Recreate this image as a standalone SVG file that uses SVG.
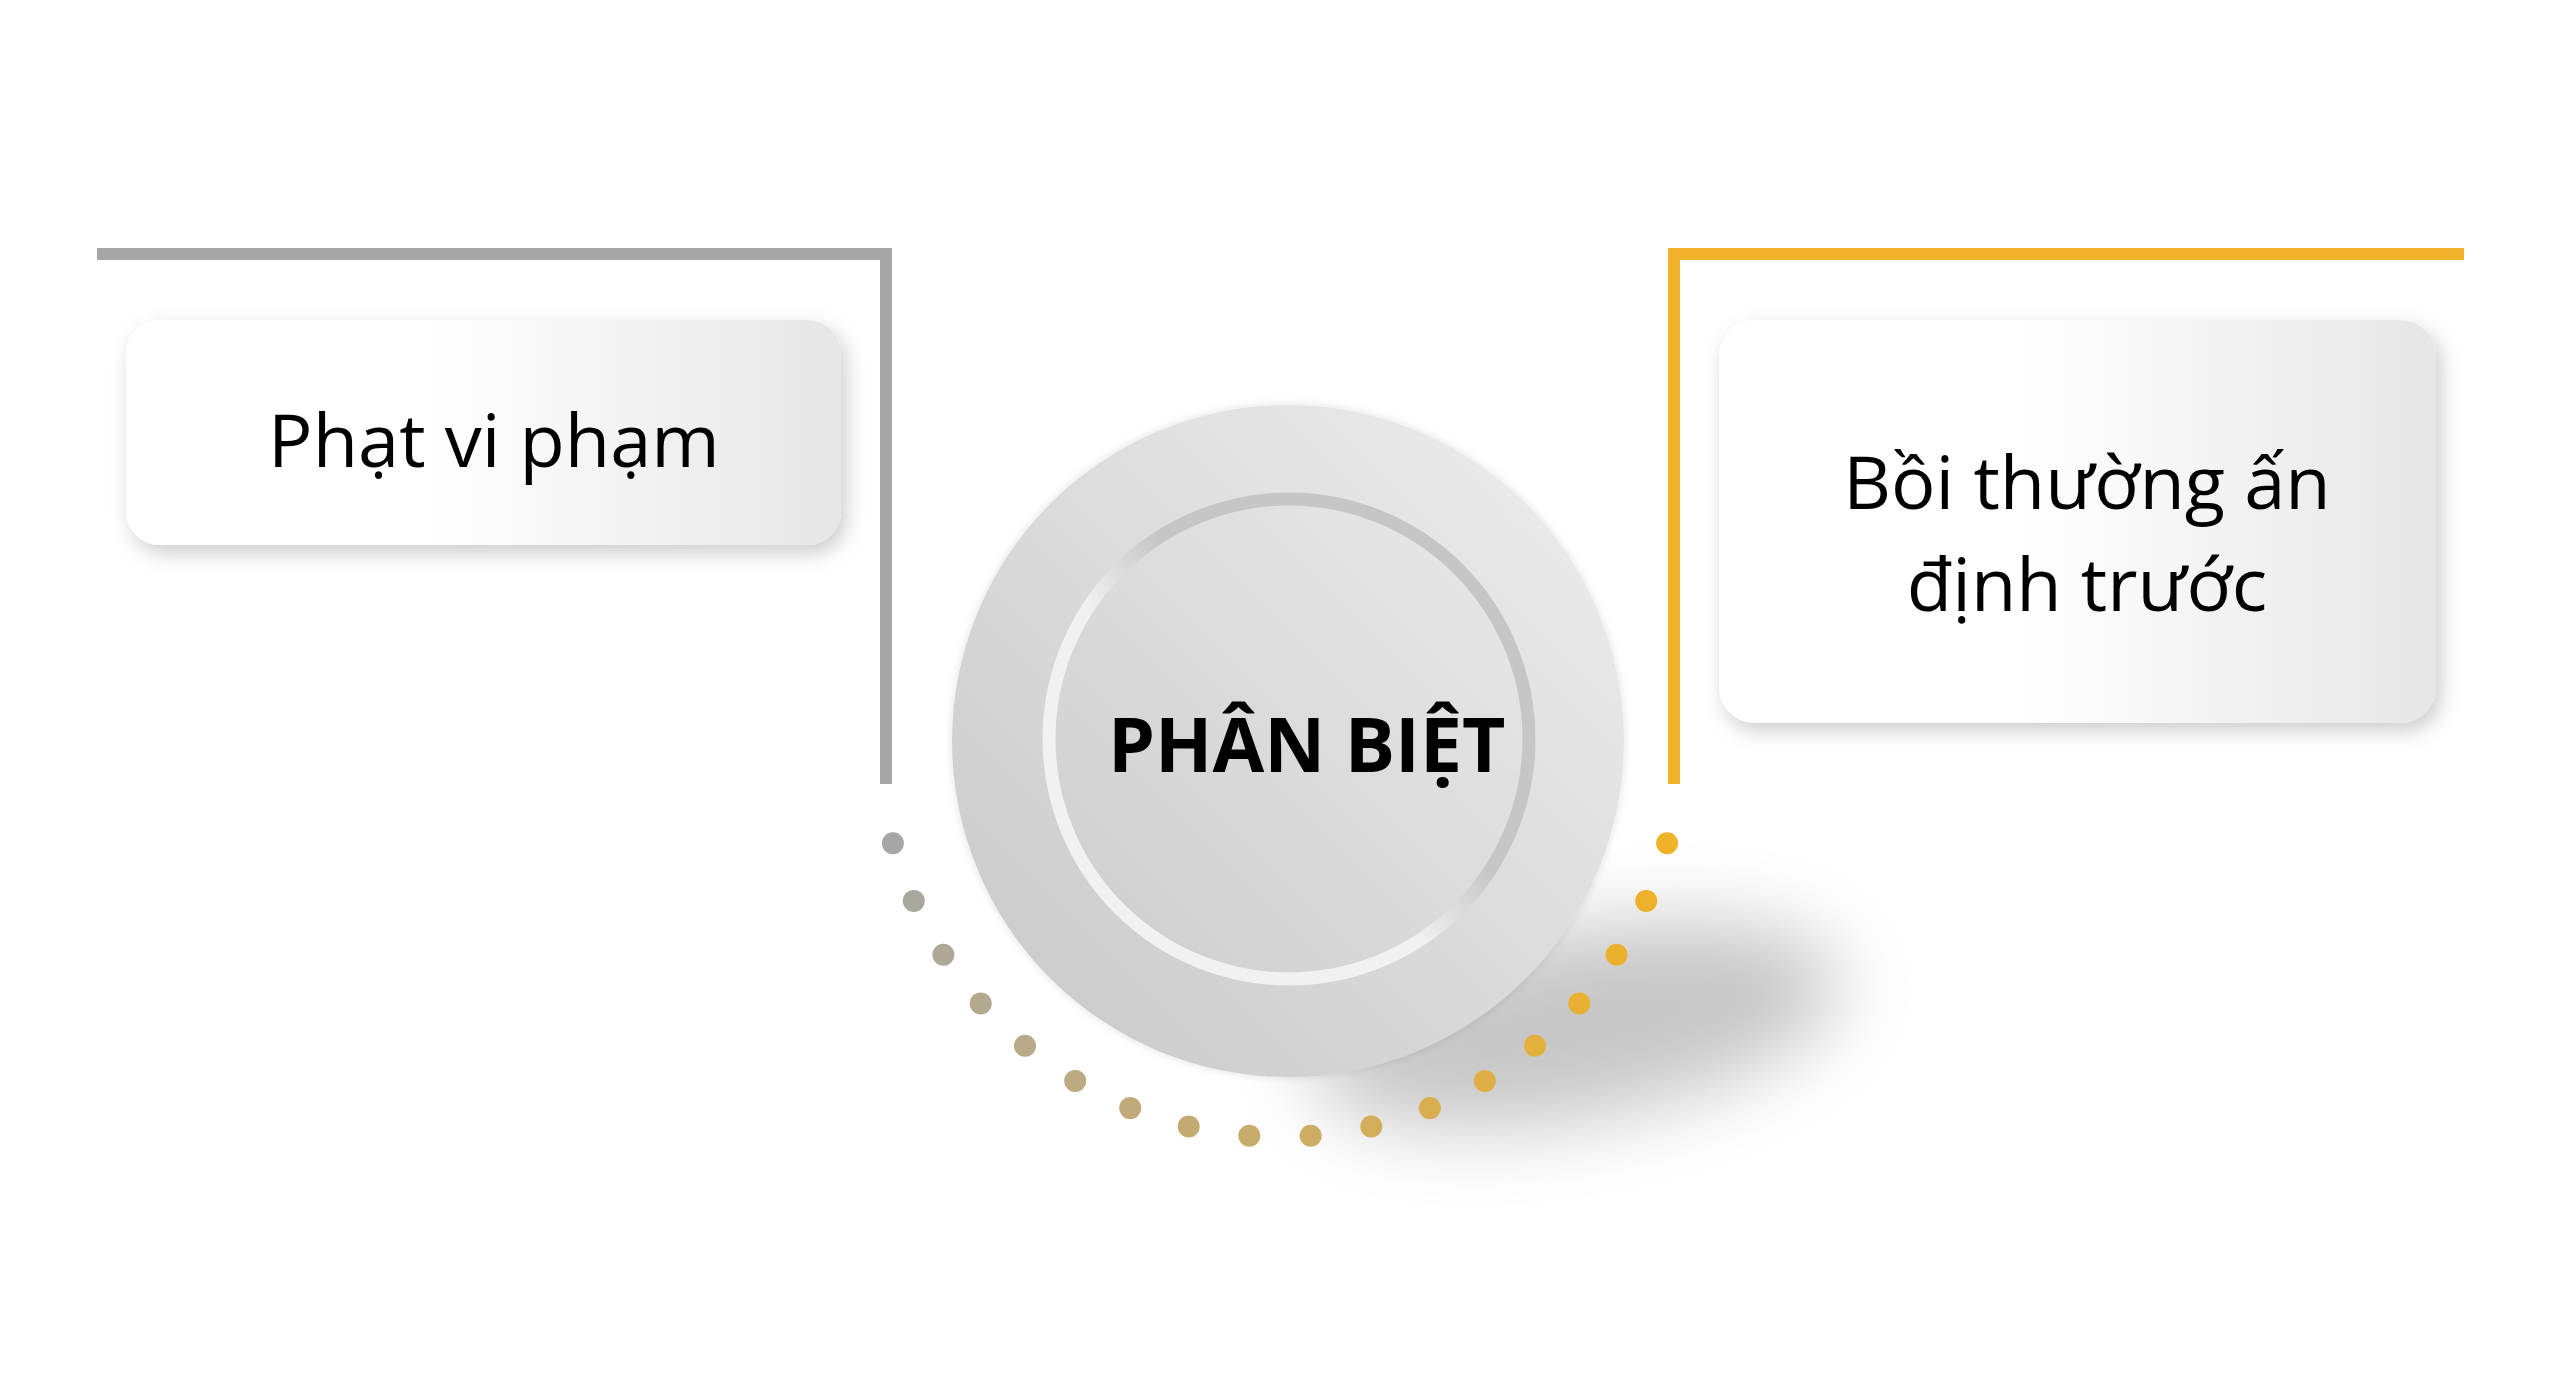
<svg xmlns="http://www.w3.org/2000/svg" width="2560" height="1395" viewBox="0 0 2560 1395">
  <defs>
    <linearGradient id="boxGrad" x1="0" y1="0" x2="1" y2="0">
      <stop offset="0" stop-color="#ffffff"/>
      <stop offset="0.42" stop-color="#ffffff"/>
      <stop offset="1" stop-color="#e6e6e6"/>
    </linearGradient>
    <linearGradient id="discGrad" x1="0.15" y1="0.85" x2="0.85" y2="0.15">
      <stop offset="0" stop-color="#cdcdcd"/>
      <stop offset="1" stop-color="#e9e9e9"/>
    </linearGradient>
    <linearGradient id="ringGrad" x1="0.8" y1="0.2" x2="0.2" y2="0.8">
      <stop offset="0.38" stop-color="#c6c6c6"/>
      <stop offset="0.62" stop-color="#f1f1f1"/>
    </linearGradient>
    <filter id="boxShadow" x="-10%" y="-20%" width="125%" height="145%">
      <feDropShadow dx="5" dy="8" stdDeviation="10" flood-color="#000" flood-opacity="0.2"/>
    </filter>
    <filter id="discEdge" x="-10%" y="-10%" width="120%" height="120%">
      <feDropShadow dx="0" dy="0" stdDeviation="4" flood-color="#000" flood-opacity="0.12"/>
    </filter>
    <filter id="castBlur" x="-60%" y="-120%" width="220%" height="340%">
      <feGaussianBlur stdDeviation="40"/>
    </filter>
  </defs>
  <style>
    .label { font-family: "Open Sans", "Noto Sans", "Liberation Sans", sans-serif; font-size: 74px; fill: #000000; text-anchor: middle; }
    .title { font-family: "Open Sans", "Noto Sans", "Liberation Sans", sans-serif; font-size: 75px; font-weight: bold; fill: #000000; }
    .bracket { fill: none; stroke-width: 12; stroke-linejoin: miter; stroke-linecap: butt; }
  </style>
  <rect width="2560" height="1395" fill="#ffffff"/>

  <g id="connectors">
    <polyline class="bracket" stroke="#a6a6a6" points="97,254 886,254 886,784"/>
    <polyline class="bracket" stroke="#f0b32a" points="2464,254 1674,254 1674,784"/>
  </g>

  <g id="node-center">
    <ellipse cx="1575" cy="1025" rx="270" ry="95" transform="rotate(-10 1575 1025)" fill="#000" opacity="0.22" filter="url(#castBlur)"/>
    <circle cx="1288" cy="741" r="336" fill="url(#discGrad)" filter="url(#discEdge)"/>
    <circle cx="1289" cy="739" r="240" fill="none" stroke="url(#ringGrad)" stroke-width="13"/>
    <text class="title" x="1108" y="772">PHÂN BIỆT</text>
  </g>

  <g id="dots">
    <circle cx="892.9" cy="843.3" r="11" fill="#a6a6a6"/>
    <circle cx="913.8" cy="900.9" r="11" fill="#aaa79f"/>
    <circle cx="943.4" cy="954.7" r="11" fill="#afa797"/>
    <circle cx="980.7" cy="1003.4" r="11" fill="#b3a890"/>
    <circle cx="1025.0" cy="1045.8" r="11" fill="#b7a989"/>
    <circle cx="1075.2" cy="1080.9" r="11" fill="#bcaa81"/>
    <circle cx="1130.2" cy="1108.1" r="11" fill="#c0aa7a"/>
    <circle cx="1188.7" cy="1126.5" r="11" fill="#c4ab73"/>
    <circle cx="1249.3" cy="1135.8" r="11" fill="#c8ac6b"/>
    <circle cx="1310.7" cy="1135.8" r="11" fill="#cdac64"/>
    <circle cx="1371.3" cy="1126.5" r="11" fill="#d3ad5a"/>
    <circle cx="1429.8" cy="1108.1" r="11" fill="#d9ae50"/>
    <circle cx="1484.8" cy="1080.9" r="11" fill="#dfaf45"/>
    <circle cx="1535.0" cy="1045.8" r="11" fill="#e4b03c"/>
    <circle cx="1579.3" cy="1003.4" r="11" fill="#e8b134"/>
    <circle cx="1616.6" cy="954.7" r="11" fill="#ebb12e"/>
    <circle cx="1646.2" cy="900.9" r="11" fill="#eeb22a"/>
    <circle cx="1667.1" cy="843.3" r="11" fill="#efb229"/>
  </g>

  <g id="node-left">
    <rect x="126" y="320" width="715" height="225" rx="34" fill="url(#boxGrad)" filter="url(#boxShadow)"/>
    <text class="label" x="494" y="467">Phạt vi phạm</text>
  </g>

  <g id="node-right">
    <rect x="1719" y="320" width="717" height="403" rx="36" fill="url(#boxGrad)" filter="url(#boxShadow)"/>
    <text class="label" x="2087" y="509">Bồi thường ấn</text>
    <text class="label" x="2087" y="611">định trước</text>
  </g>
</svg>
